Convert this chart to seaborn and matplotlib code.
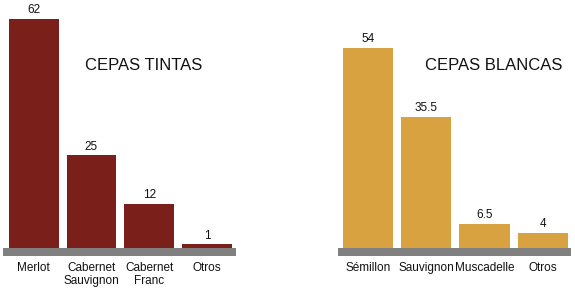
import matplotlib
matplotlib.use("Agg")
import matplotlib.pyplot as plt
import seaborn as sns
import pandas as pd

# Data
tintas_cats = ["Merlot", "Cabernet\nSauvignon", "Cabernet\nFranc", "Otros"]
tintas_vals = [62, 25, 12, 1]
blancas_cats = ["Sémillon", "Sauvignon", "Muscadelle", "Otros"]
blancas_vals = [54, 35.5, 6.5, 4]
titles = ["CEPAS TINTAS", "CEPAS BLANCAS"]

sns.set_style("white")
plt.rcParams["font.family"] = ["Liberation Sans", "DejaVu Sans"]

RED = "#7a1f1a"
GOLD = "#d8a241"
GRAY = "#808080"

fig = plt.figure(figsize=(5.75, 2.9), dpi=100)
W, H = 575, 290

def make_ax(x0, x1):
    return fig.add_axes([x0 / W, (H - 256) / H, (x1 - x0) / W, 256 / H])

ax1 = make_ax(3, 236)
ax2 = make_ax(338, 571)

panels = [
    (ax1, tintas_cats, tintas_vals, RED, (-0.53, 3.5), (144, 65)),
    (ax2, blancas_cats, blancas_vals, GOLD, (-0.51, 3.48), (494, 65)),
]

for (ax, cats, vals, col, xl, tpos), title in zip(panels, titles):
    df = pd.DataFrame({"cat": cats, "val": vals})
    sns.barplot(data=df, x="cat", y="val", color=col, saturation=1,
                width=0.86, ax=ax, edgecolor="none")
    ax.set_xlim(*xl)
    ax.set_ylim(-2.16, 67)
    ax.axhspan(-2.16, 0, color=GRAY, zorder=5, lw=0)
    ax.bar_label(ax.containers[0], labels=[f"{v:g}" for v in vals],
                 padding=2, fontsize=8.5, color="#111111")
    ax.set_xlabel("")
    ax.set_ylabel("")
    ax.set_yticks([])
    ax.tick_params(axis="x", length=0, pad=4, labelsize=8.5, colors="#111111")
    for s in ax.spines.values():
        s.set_visible(False)
    ax.patch.set_alpha(0)
    fig.text(tpos[0] / W, 1 - tpos[1] / H, title, ha="center", va="center",
             fontsize=12, color="#111111")

fig.savefig("out.png", dpi=100)
